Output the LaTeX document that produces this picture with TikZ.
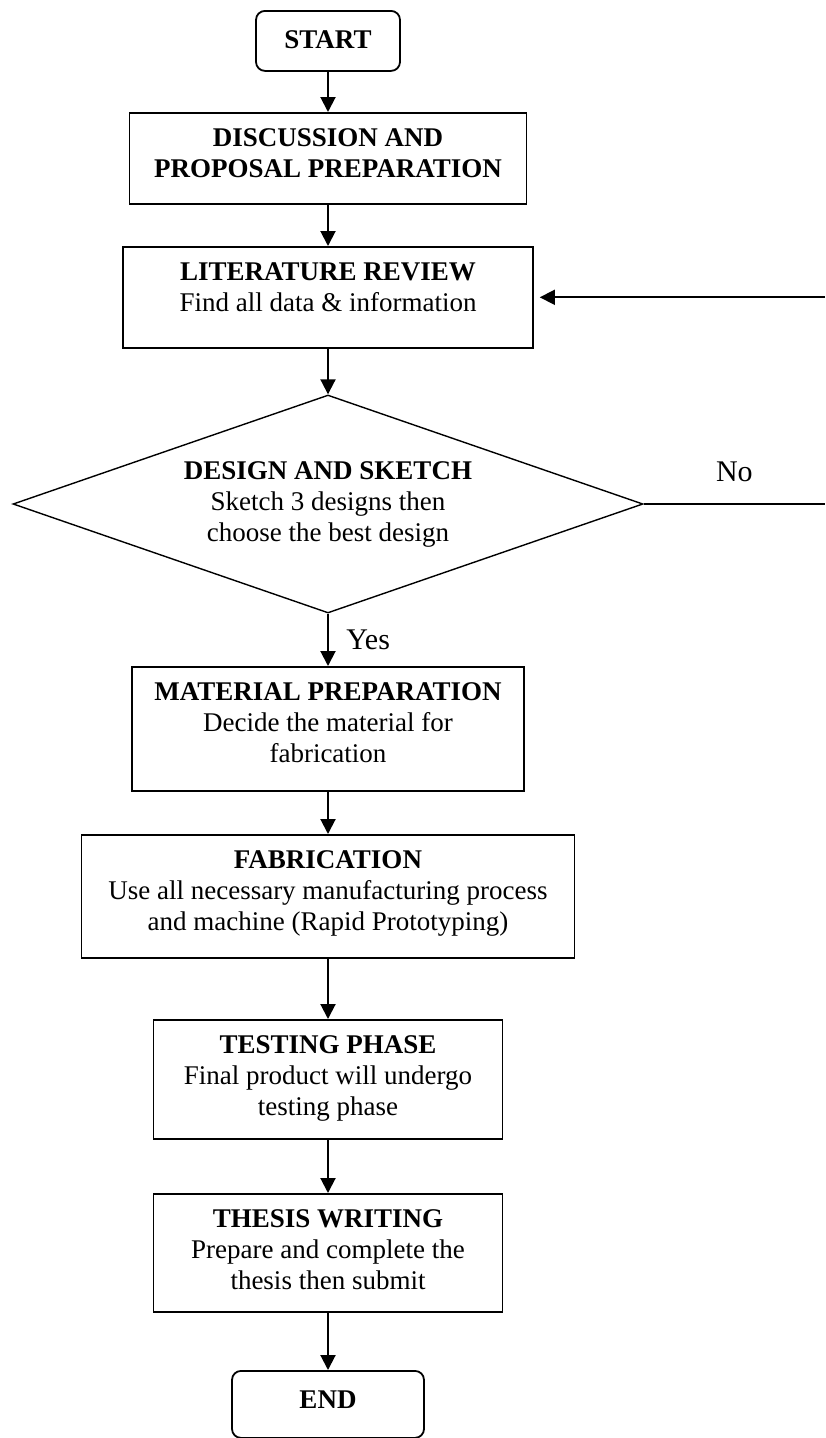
\documentclass[tikz,border=0pt]{standalone}
\usepackage{fontspec}
\setmainfont{Liberation Serif}
\usepackage{tikz}
\usetikzlibrary{shapes.geometric,arrows.meta}

\begin{document}
\begin{tikzpicture}[x=1pt, y=-1pt,
		every node/.style = {font=\fontsize{27}{31}\selectfont},
		box/.style = {draw, line width=1.6pt, anchor=north, inner sep=0pt, align=flush center, text height=34pt},
		terminal/.style = {box, rounded corners=9pt, line width=1.8pt, text height=38pt},
		decision/.style = {draw, diamond, line width=1.4pt, inner sep=0pt, align=flush center, aspect=2.9, minimum width=630pt, minimum height=218pt},
		flow/.style = {line width=2pt, -{Triangle[length=15pt, width=15pt]}},
		lbl/.style = {font=\fontsize{30}{35}\selectfont}]
	\useasboundingbox (0,0) rectangle (825,1438);
	% steps, top to bottom
	\node[terminal, text width=144pt, text depth=22pt] (start) at (328,10) {\textbf{START}};
	\node[box, text width=397pt, text depth=57pt] (disc) at (328,112) {\textbf{DISCUSSION AND}\\\textbf{PROPOSAL PREPARATION}};
	\node[box, text width=410pt, text depth=67pt] (lit) at (328,246) {\textbf{LITERATURE REVIEW}\\Find all data \& information};
	\node[decision] (dec) at (328,504) {\textbf{DESIGN AND SKETCH}\\Sketch 3 designs then\\choose the best design};
	\node[box, text width=392pt, text depth=90pt] (mat) at (328,666) {\textbf{MATERIAL PREPARATION}\\Decide the material for\\fabrication};
	\node[box, text width=493pt, text depth=89pt] (fab) at (328,834) {\textbf{FABRICATION}\\Use all necessary manufacturing process\\and machine (Rapid Prototyping)};
	\node[box, text width=349pt, text depth=85pt] (test) at (328,1019) {\textbf{TESTING PHASE}\\Final product will undergo\\testing phase};
	\node[box, text width=349pt, text depth=84pt] (thesis) at (328,1193) {\textbf{THESIS WRITING}\\Prepare and complete the\\thesis then submit};
	\node[terminal, text width=192pt, text depth=29pt] (end) at (328,1370) {\textbf{END}};
	% loop back on the right
	\coordinate (fbbot) at (825,504);
	\coordinate (fbtop) at (lit.east -| fbbot);

	\draw[flow] (start) -- (disc);
	\draw[flow] (disc) -- (lit);
	\draw[flow] (lit) -- (dec);
	\draw[flow] (dec) -- node[lbl, right=14pt] {Yes} (mat);
	\draw[flow] (mat) -- (fab);
	\draw[flow] (fab) -- (test);
	\draw[flow] (test) -- (thesis);
	\draw[flow] (thesis) -- (end);
	\draw[line width=1.4pt] (dec) -- node[lbl, above=18pt] {No} (fbbot);
	\draw[flow, line width=1.7pt, shorten >=6pt] (fbtop) -- (lit.east);
\end{tikzpicture}
\end{document}
